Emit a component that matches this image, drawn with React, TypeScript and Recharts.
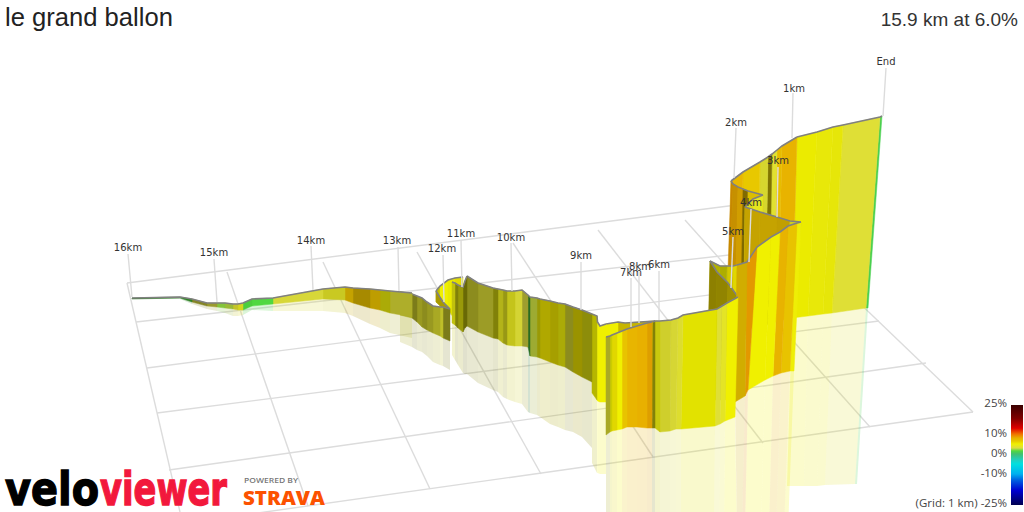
import React from 'react';
import { ComposedChart, Scatter, XAxis, YAxis } from 'recharts';

// km markers
const kmLabels = ['16km', '15km', '14km', '13km', '12km', '11km', '10km', '9km', '8km', '7km', '6km', '5km', '4km', '3km', '2km', '1km', 'End'];
const kmLabelX = [128, 214, 311, 397, 442, 461, 511, 581, 640, 631, 659, 733, 751, 778, 736, 794, 886];
const kmLabelY = [248, 253, 241, 241, 249, 234, 238, 256, 267, 273, 265, 232, 203, 161, 123, 89, 62];
const poleTopX = [128, 214, 311, 398, 443, 461, 511, 581, 639, 631, 659, 733, 751, 778, 736, 793, 886];
const poleTopY = [254, 259, 246, 247, 255, 240, 243, 262, 272, 278, 271, 237, 209, 167, 128, 93, 68];
const poleEndX = [132, 217, 313, 399, 444, 462, 512, 581, 639, 631, 659, 731, 749, 777, 734, 792, 883];
const poleEndY = [297, 302, 290, 291, 302, 287, 291, 310, 323, 327, 320, 288, 262, 217, 178, 138, 116];

// ground grid
const gridFromX = [127, 136, 147, 157, 169, 180, 127, 227, 323, 417, 513, 598, 685, 752];
const gridFromY = [283, 322, 368, 413, 470, 524, 283, 272, 262, 252, 243, 230, 220, 200];
const gridToX = [752, 800, 840, 879, 926, 973, 180, 308, 430, 541, 653, 763, 870, 973];
const gridToY = [203, 247, 278, 321, 363, 412, 512, 506, 489, 474, 457, 443, 427, 412];

// gradient colour scale
const scaleGrades = [25, 18, 13, 10, 8, 6.5, 5, 3, 1.5, 0, -3, -5, -10, -13, -18, -25];
const scaleColors = ['#3a0000', '#800000', '#e00000', '#f07000', '#e8b000', '#e8c800', '#f0f000', '#dcdc40', '#50d840', '#40c070', '#20d0c0', '#00e0e0', '#00b0f0', '#0060e0', '#0000d0', '#000050'];
const legendTicks = ['25%', '10%', '0%', '-10%', '(Grid: 1 km) -25%'];
const legendTickY = [404, 434, 454, 474, 504];

// ribbon sections, painted far to near: top edge, ground edge, mirrored edge, gradient and light of each strip
const endX = [882, 880, 843, 833, 817, 797];
const endTop = [116, 117, 125, 127, 132, 137];
const endBaseX = [868, 866, 832, 823, 808, 792];
const endBase = [308, 308, 313, 314, 316, 318];
const endMirX = [857, 855, 825, 817, 804, 787];
const endMir = [484, 484, 485, 486, 486, 486];
const endGrade = [1, 3.3, 4.7, 4.7, 5];
const endLight = [1, 1, 0.97, 0.98, 0.98];

const oneKmX = [797, 782, 777, 772, 768, 760, 743, 731];
const oneKmTop = [137, 146, 150, 154, 157, 162, 172, 181];
const oneKmBaseX = [792, 778, 773, 769, 765, 757, 741, 729];
const oneKmBase = [318, 321, 323, 324, 325, 327, 330, 335];
const oneKmGrade = [7.8, 7.2, 3.5, 6, 3.5, 6.5, 7.5];
const oneKmLight = [1, 1, 1, 0.55, 0.95, 1, 1];

const bendX = [731, 733, 738, 743, 748, 763];
const bendTop = [181, 184, 187, 189, 191, 195];
const bendBaseX = [727, 729, 735, 741, 746, 761];
const bendBase = [300, 300, 300, 300, 300, 300];
const bendGrade = [8.5, 8.2, 8, 7, 6.5];
const bendLight = [0.85, 0.85, 0.9, 0.55, 0.95];

const tipX = [763, 753, 745];
const tipTop = [195, 199, 207];
const tipBaseX = [761, 751, 744];
const tipBase = [290, 290, 290];
const tipGrade = [4, 4];
const tipLight = [1, 0.95];

const backX = [745, 760, 777, 790, 801];
const backTop = [207, 212, 217, 221, 222];
const backBaseX = [744, 758, 774, 786, 794];
const backBase = [300, 300, 300, 300, 300];
const backGrade = [7, 7, 7, 4];
const backLight = [0.85, 0.85, 0.83, 0.9];

const shelfX = [737, 733, 727, 720, 710];
const shelfTop = [265, 266, 266, 266, 261];
const shelfBaseX = [735, 731, 725, 718, 708];
const shelfBase = [400, 400, 400, 400, 400];
const shelfGrade = [5.5, 5.5, 5, 5];
const shelfLight = [0.95, 0.88, 0.72, 0.74];

const shadeX = [710, 717, 728, 738];
const shadeTop = [261, 272, 283, 297];
const shadeBaseX = [708, 715, 726, 736];
const shadeBase = [340, 340, 340, 340];
const shadeGrade = [6, 6, 6];
const shadeLight = [0.6, 0.62, 0.68];

const fourKmX = [801, 797, 788, 780, 771, 757, 747, 737];
const fourKmTop = [222, 223, 226, 232, 237, 247, 262, 265];
const fourKmBaseX = [794, 790, 781, 773, 765, 748, 745, 735];
const fourKmBase = [371, 371, 373, 376, 380, 390, 396, 402];
const fourKmMirX = [788, 784, 776, 769, 761, 745, 742, 737];
const fourKmMir = [530, 530, 530, 530, 530, 530, 530, 530];
const fourKmGrade = [4.8, 6.8, 7.8, 5, 5, 8.6, 7];
const fourKmLight = [1, 1, 1, 1, 1, 0.97, 0.9];

const hollowX = [655, 625, 618, 606];
const hollowTop = [321, 323, 322, 324];
const hollowBaseX = [655, 625, 618, 606];
const hollowBase = [410, 410, 410, 402];
const hollowGrade = [6, 6, 5];
const hollowLight = [0.85, 0.85, 1];

const eightKmX = [606, 600, 597.5, 597, 592];
const eightKmTop = [324, 326, 322, 316, 314];
const eightKmBaseX = [606, 600, 597.5, 597, 592];
const eightKmBase = [402, 402, 401, 400, 393];
const eightKmMirX = [606, 600, 597.5, 597, 592];
const eightKmMir = [474, 474, 473, 473, 463];
const eightKmGrade = [5, 5, 5, 5];
const eightKmLight = [1, 1, 1, 0.76];

const nineKmX = [592, 582, 573, 565, 558, 550, 540, 537, 530, 528, 522, 515, 507, 503, 498, 493, 478, 467];
const nineKmTop = [314, 310, 307, 304, 303, 301, 299, 298, 297, 295, 290, 291, 291, 290, 289, 288, 283, 276];
const nineKmBaseX = [592, 582, 573, 565, 558, 550, 540, 537, 530, 528, 522, 515, 507, 503, 498, 493, 478, 467];
const nineKmBase = [382, 377, 372, 367, 365, 362, 358, 357, 356, 347, 346, 346, 345, 343, 339, 338, 332, 326];
const nineKmMirX = [592, 582, 573, 565, 558, 550, 540, 537, 530, 528, 522, 515, 507, 503, 498, 493, 478, 467];
const nineKmMir = [448, 437, 432, 430, 427, 424, 417, 415, 413, 412, 404, 402, 399, 397, 392, 390, 383, 374];
const nineKmGrade = [4.5, 5.5, 3.5, 4.7, 5.5, 5.5, 4.7, 2.8, 1.5, 3, 3.3, 4, 4, 4, 4.5, 3.3, 3.5];
const nineKmLight = [0.6, 0.65, 0.62, 0.72, 0.7, 0.74, 0.65, 0.78, 0.5, 0.72, 0.95, 0.85, 0.66, 0.78, 0.55, 0.7, 0.62];

const crescentX = [436, 440, 448, 455, 463];
const crescentTop = [291, 286, 280, 278, 277];
const crescentBaseX = [436, 440, 448, 455, 463];
const crescentBase = [302, 304, 309, 320, 320];
const crescentGrade = [5, 5, 5, 5.3];
const crescentLight = [0.8, 1, 0.97, 0.95];

const foldX = [436, 443, 450];
const foldTop = [291, 302, 309];
const foldBaseX = [436, 443, 450];
const foldBase = [302, 309, 315];
const foldGrade = [6, 6];
const foldLight = [0.72, 0.72];

const elevenKmX = [467, 465, 463, 458, 455, 452];
const elevenKmTop = [276, 281, 287, 285, 283, 282];
const elevenKmBaseX = [467, 465, 463, 458, 455, 452];
const elevenKmBase = [326, 328, 332, 328, 325, 323];
const elevenKmMirX = [467, 465, 463, 458, 455, 452];
const elevenKmMir = [374, 374, 373, 365, 360, 355];
const elevenKmGrade = [4.5, 4.5, 4.5, 4.5, 4.5];
const elevenKmLight = [0.45, 0.45, 0.65, 0.55, 0.82];

const twelveKmX = [450, 443, 440, 433, 427, 422, 417, 412, 400];
const twelveKmTop = [309, 307, 307, 306, 302, 298, 296, 294, 292];
const twelveKmBaseX = [450, 443, 440, 433, 427, 422, 417, 412, 400];
const twelveKmBase = [341, 338, 336, 333, 330, 327, 322, 318, 315];
const twelveKmMirX = [450, 443, 440, 433, 427, 422, 417, 412, 400];
const twelveKmMir = [370, 366, 365, 362, 356, 352, 350, 347, 342];
const twelveKmGrade = [3.5, 3.5, 3.5, 3.5, 3.5, 3.5, 3.5, 3.5];
const twelveKmLight = [0.55, 0.85, 0.75, 0.68, 0.62, 0.68, 0.55, 0.75];

const startX = [412, 390, 380, 370, 353, 345, 323, 273, 252, 243, 238, 233, 225, 217, 207, 192, 180, 132];
const startTop = [293, 291, 290, 289, 288, 287, 289, 298, 299, 303, 304, 304, 303, 303, 303, 299, 297, 298];
const startBaseX = [412, 390, 380, 370, 353, 345, 323, 273, 252, 243, 238, 233, 225, 217, 207, 192, 180, 132];
const startBase = [317, 313, 310, 308, 303, 300, 299, 304, 306, 310, 310, 309, 308, 307, 306, 302, 298, 299];
const startMirX = [412, 390, 380, 370, 353, 345, 323, 273, 252, 243, 238, 233, 225, 217, 207, 192, 180, 132];
const startMir = [338, 333, 328, 324, 316, 313, 311, 311, 310, 315, 316, 316, 313, 311, 309, 304, 299, 299];
const startGrade = [3.3, 4.7, 7, 7, 7, 3.8, 3.2, 1.5, 1.5, 4, 3.5, 2.6, 2.2, 3, 3, 1.5, 1.5];
const startLight = [0.78, 0.72, 0.82, 0.72, 0.85, 0.88, 0.97, 1, 0.95, 0.93, 0.87, 0.85, 0.9, 0.7, 0.6, 0.6, 0.55];

const fiveKmX = [738, 727, 722, 717, 683, 678, 671, 660, 655, 653];
const fiveKmTop = [297, 303, 306, 309, 315, 318, 320, 321, 321, 322];
const fiveKmBaseX = [735, 725, 720, 715, 681, 676, 670, 660, 655, 652];
const fiveKmBase = [417, 421, 424, 426, 429, 429, 431, 432, 428, 428];
const fiveKmMirX = [737, 724, 719, 714, 681, 676, 670, 660, 655, 652];
const fiveKmMir = [530, 530, 530, 530, 530, 530, 530, 530, 530, 530];
const fiveKmGrade = [5, 3.8, 3.3, 5, 3.5, 3.3, 3.5, 4.5, 4.5];
const fiveKmLight = [1, 1, 1, 0.94, 0.98, 0.96, 0.92, 0.85, 0.55];

const sevenKmX = [652, 647, 637, 627, 622, 617, 612, 610, 606];
const sevenKmTop = [322, 323, 326, 329, 331, 333, 335, 336, 337];
const sevenKmBaseX = [652, 647, 637, 627, 622, 617, 612, 610, 606];
const sevenKmBase = [428, 428, 427, 427, 429, 430, 431, 432, 435];
const sevenKmMirX = [652, 647, 637, 627, 622, 617, 612, 610, 606];
const sevenKmMir = [540, 540, 540, 540, 540, 540, 540, 540, 540];
const sevenKmGrade = [8.3, 8, 7.7, 6.8, 5, 5.5, 5, 3.5];
const sevenKmLight = [0.95, 1, 1, 1, 1, 0.95, 0.85, 0.75];

type Section = {
  x: number[]; top: number[]; baseX: number[]; base: number[];
  grade: number[]; light: number[]; mirX?: number[]; mir?: number[];
};

const sections: Section[] = [
  { x: endX, top: endTop, baseX: endBaseX, base: endBase, grade: endGrade, light: endLight, mirX: endMirX, mir: endMir },
  { x: oneKmX, top: oneKmTop, baseX: oneKmBaseX, base: oneKmBase, grade: oneKmGrade, light: oneKmLight },
  { x: bendX, top: bendTop, baseX: bendBaseX, base: bendBase, grade: bendGrade, light: bendLight },
  { x: tipX, top: tipTop, baseX: tipBaseX, base: tipBase, grade: tipGrade, light: tipLight },
  { x: backX, top: backTop, baseX: backBaseX, base: backBase, grade: backGrade, light: backLight },
  { x: shelfX, top: shelfTop, baseX: shelfBaseX, base: shelfBase, grade: shelfGrade, light: shelfLight },
  { x: shadeX, top: shadeTop, baseX: shadeBaseX, base: shadeBase, grade: shadeGrade, light: shadeLight },
  { x: fourKmX, top: fourKmTop, baseX: fourKmBaseX, base: fourKmBase, grade: fourKmGrade, light: fourKmLight, mirX: fourKmMirX, mir: fourKmMir },
  { x: hollowX, top: hollowTop, baseX: hollowBaseX, base: hollowBase, grade: hollowGrade, light: hollowLight },
  { x: eightKmX, top: eightKmTop, baseX: eightKmBaseX, base: eightKmBase, grade: eightKmGrade, light: eightKmLight, mirX: eightKmMirX, mir: eightKmMir },
  { x: nineKmX, top: nineKmTop, baseX: nineKmBaseX, base: nineKmBase, grade: nineKmGrade, light: nineKmLight, mirX: nineKmMirX, mir: nineKmMir },
  { x: crescentX, top: crescentTop, baseX: crescentBaseX, base: crescentBase, grade: crescentGrade, light: crescentLight },
  { x: foldX, top: foldTop, baseX: foldBaseX, base: foldBase, grade: foldGrade, light: foldLight },
  { x: elevenKmX, top: elevenKmTop, baseX: elevenKmBaseX, base: elevenKmBase, grade: elevenKmGrade, light: elevenKmLight, mirX: elevenKmMirX, mir: elevenKmMir },
  { x: twelveKmX, top: twelveKmTop, baseX: twelveKmBaseX, base: twelveKmBase, grade: twelveKmGrade, light: twelveKmLight, mirX: twelveKmMirX, mir: twelveKmMir },
  { x: startX, top: startTop, baseX: startBaseX, base: startBase, grade: startGrade, light: startLight, mirX: startMirX, mir: startMir },
  { x: fiveKmX, top: fiveKmTop, baseX: fiveKmBaseX, base: fiveKmBase, grade: fiveKmGrade, light: fiveKmLight, mirX: fiveKmMirX, mir: fiveKmMir },
  { x: sevenKmX, top: sevenKmTop, baseX: sevenKmBaseX, base: sevenKmBase, grade: sevenKmGrade, light: sevenKmLight, mirX: sevenKmMirX, mir: sevenKmMir },
];

const hex = (c: string) => [1, 3, 5].map((i) => parseInt(c.slice(i, i + 2), 16));

// colour of a gradient from the scale, darkened by how much light the strip gets
function stripColor(grade: number, light: number) {
  let i = scaleGrades.findIndex((g) => g <= grade);
  if (i <= 0) i = 1;
  const t = (scaleGrades[i - 1] - grade) / (scaleGrades[i - 1] - scaleGrades[i]);
  const a = hex(scaleColors[i - 1]);
  const b = hex(scaleColors[i]);
  const rgb = a.map((v, k) => Math.round((v + (b[k] - v) * t) * light));
  return `rgb(${rgb.join(',')})`;
}

const noMark = () => null;

function polygon(key: string, rows: { x: number; y: number }[], line: object) {
  return (
    <Scatter
      key={key}
      data={rows}
      shape={noMark}
      line={line}
      lineType="joint"
      legendType="none"
      isAnimationActive={false}
    />
  );
}

function mirrors() {
  const out: React.ReactNode[] = [];
  sections.forEach((s, n) => {
    if (!s.mir || !s.mirX) return;
    s.grade.forEach((g, i) => {
      const rows = [
        { x: s.baseX[i], y: s.base[i] },
        { x: s.baseX[i + 1], y: s.base[i + 1] },
        { x: s.mirX![i + 1], y: s.mir![i + 1] },
        { x: s.mirX![i], y: s.mir![i] },
      ];
      out.push(polygon(`m${n}-${i}`, rows, { fill: stripColor(g, s.light[i]), fillOpacity: 0.2, stroke: 'none' }));
    });
  });
  return out;
}

function walls() {
  const out: React.ReactNode[] = [];
  sections.forEach((s, n) => {
    s.grade.forEach((g, i) => {
      const color = stripColor(g, s.light[i]);
      const rows = [
        { x: s.x[i], y: s.top[i] },
        { x: s.x[i + 1], y: s.top[i + 1] },
        { x: s.baseX[i + 1], y: s.base[i + 1] },
        { x: s.baseX[i], y: s.base[i] },
        { x: s.x[i], y: s.top[i] },
      ];
      out.push(polygon(`w${n}-${i}`, rows, { fill: color, stroke: color, strokeWidth: 0.5 }));
    });
    const ridge = s.x.map((x, i) => ({ x, y: s.top[i] }));
    out.push(polygon(`r${n}`, ridge, { fill: 'none', stroke: '#808080', strokeWidth: 1.6 }));
  });
  return out;
}

function TextMark(props: any) {
  const { cx, cy, payload } = props;
  return (
    <text
      x={cx}
      y={cy}
      textAnchor={payload.anchor ?? 'middle'}
      dominantBaseline={payload.baseline ?? 'middle'}
      fontFamily={payload.font ?? 'DejaVu Sans'}
      fontSize={payload.size ?? 10}
      fontWeight={payload.weight ?? 400}
      fill={payload.color ?? '#333'}
      stroke={payload.outline ?? 'none'}
      strokeWidth={payload.outline ? 1.4 : 0}
      textLength={payload.length}
      lengthAdjust={payload.length ? 'spacingAndGlyphs' : undefined}
    >
      {payload.text}
    </text>
  );
}

const kmRows = kmLabels.map((text, i) => ({ x: kmLabelX[i], y: kmLabelY[i], text }));
const legendRows = legendTicks.map((text, i) => ({
  x: 1007, y: legendTickY[i], text, anchor: 'end', font: 'Open Sans', size: 11.5, color: '#444',
}));
const headRows = [
  { x: 5, y: 19, text: 'le grand ballon', anchor: 'start', font: 'Liberation Sans', size: 25.6, color: '#222' },
  { x: 1018, y: 21, text: '15.9 km at 6.0%', anchor: 'end', font: 'Liberation Sans', size: 19, color: '#333' },
];
const logoRows = [
  { x: 5, y: 505, baseline: 'auto', text: 'velo', anchor: 'start', font: 'DejaVu Sans', size: 47, weight: 700, color: '#000', outline: '#000', length: 94 },
  { x: 100, y: 505, baseline: 'auto', text: 'viewer', anchor: 'start', font: 'DejaVu Sans', size: 47, weight: 700, color: '#f2183c', outline: '#f2183c', length: 127 },
  { x: 244, y: 481, text: 'POWERED BY', anchor: 'start', font: 'Open Sans', size: 7.5, weight: 600, color: '#777', length: 54 },
  { x: 243, y: 505, baseline: 'auto', text: 'STRAVA', anchor: 'start', font: 'Open Sans', size: 19.5, weight: 800, color: '#fc5200', length: 82 },
];

const legendBar = [
  { x: 1011, y: 405 },
  { x: 1023, y: 405 },
  { x: 1023, y: 505 },
  { x: 1011, y: 505 },
];

export default function App() {
  return (
    <div style={{ position: 'absolute', left: 0, top: 0, width: 1024, height: 512, overflow: 'hidden', background: '#fff' }}>
      <ComposedChart width={1024} height={512} margin={{ top: 0, right: 0, bottom: 0, left: 0 }}>
        <defs>
          <linearGradient id="gradeRamp" x1="0" y1="0" x2="0" y2="1">
            {scaleGrades.map((g, i) => {
              const pos = g >= 10 ? ((25 - g) / 15) * 29 : g >= -10 ? 29 + ((10 - g) / 20) * 40 : 69 + ((-10 - g) / 15) * 31;
              return <stop key={g} offset={`${pos}%`} stopColor={scaleColors[i]} />;
            })}
          </linearGradient>
        </defs>
        <XAxis type="number" dataKey="x" domain={[0, 1024]} allowDataOverflow hide />
        <YAxis type="number" dataKey="y" domain={[0, 512]} reversed allowDataOverflow hide />
        {gridFromX.map((x, i) =>
          polygon(
            `g${i}`,
            [{ x, y: gridFromY[i] }, { x: gridToX[i], y: gridToY[i] }],
            { fill: 'none', stroke: '#dcdcdc', strokeWidth: 1.4 },
          ),
        )}
        {mirrors()}
        {walls()}
        {poleTopX.map((x, i) =>
          polygon(
            `p${i}`,
            [{ x, y: poleTopY[i] }, { x: poleEndX[i], y: poleEndY[i] }],
            { fill: 'none', stroke: '#dcdcdc', strokeWidth: 1.4 },
          ),
        )}
        {polygon('legend', legendBar, { fill: 'url(#gradeRamp)', stroke: 'none' })}
        <Scatter data={kmRows} shape={TextMark} legendType="none" isAnimationActive={false} />
        <Scatter data={legendRows} shape={TextMark} legendType="none" isAnimationActive={false} />
        <Scatter data={headRows} shape={TextMark} legendType="none" isAnimationActive={false} />
        <Scatter data={logoRows} shape={TextMark} legendType="none" isAnimationActive={false} />
      </ComposedChart>
    </div>
  );
}
